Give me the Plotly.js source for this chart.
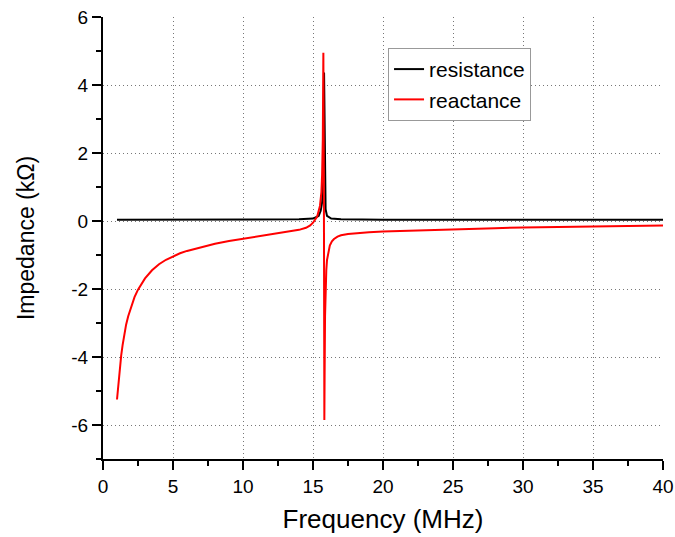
<!DOCTYPE html>
<html>
<head>
<meta charset="utf-8">
<script src="https://cdn.plot.ly/plotly-3.0.1.min.js"></script>
<style>html,body{margin:0;padding:0;background:#fff;}#chart{width:675px;height:537px;}</style>
</head>
<body>
<div id="chart"></div>
<script>
// Resistance (kΩ) vs frequency (MHz)
var resFreq = [1, 5, 10, 14, 15, 15.4, 15.55, 15.65, 15.7, 15.74, 15.77, 15.79, 15.81, 15.83, 15.86, 15.9, 16.0, 16.3, 17, 20, 30, 40];
var resVal  = [0.04, 0.04, 0.04, 0.05, 0.07, 0.15, 0.3, 0.55, 0.9, 1.8, 3.5, 4.37, 3.5, 1.8, 0.8, 0.35, 0.15, 0.07, 0.05, 0.04, 0.04, 0.04];

// Reactance (kΩ) vs frequency (MHz)
var reaFreq = [1, 1.1, 1.2, 1.3, 1.4, 1.5, 1.65, 1.8, 2, 2.25, 2.5, 2.75, 3, 3.5, 4, 4.5, 5, 5.5, 6, 7, 8, 9, 10, 11, 12, 13, 14, 14.5, 14.8, 15, 15.3, 15.5, 15.6, 15.65, 15.7, 15.74, 15.76, 15.78, 15.8, 15.81, 15.83, 15.86, 15.9, 15.95, 16.0, 16.1, 16.2, 16.35, 16.5, 16.75, 17, 17.5, 18, 19, 20, 22, 25, 28, 30, 35, 40];
var reaVal  = [-5.25, -4.75, -4.3, -3.95, -3.65, -3.38, -3.05, -2.8, -2.52, -2.24, -2.02, -1.84, -1.69, -1.45, -1.27, -1.14, -1.04, -0.95, -0.88, -0.77, -0.67, -0.59, -0.52, -0.455, -0.39, -0.33, -0.26, -0.2, -0.13, -0.05, 0.13, 0.45, 0.85, 1.35, 2.4, 4.95, 3.5, 0.5, -3.5, -5.85, -4.5, -2.8, -1.9, -1.45, -1.15, -0.88, -0.72, -0.6, -0.53, -0.46, -0.42, -0.38, -0.36, -0.33, -0.31, -0.28, -0.24, -0.21, -0.19, -0.15, -0.13];

var seriesNames = ['resistance', 'reactance'];
var xTitle = 'Frequency (MHz)';
var yTitle = 'Impedance (kΩ)';
var xTickVals = [0, 5, 10, 15, 20, 25, 30, 35, 40];
var xTickText = ['0', '5', '10', '15', '20', '25', '30', '35', '40'];
var yTickVals = [-6, -4, -2, 0, 2, 4, 6];
var yTickText = ['-6', '-4', '-2', '0', '2', '4', '6'];

var traces = [
  {x: resFreq, y: resVal, name: seriesNames[0], type: 'scatter', mode: 'lines',
   line: {color: '#000000', width: 2}},
  {x: reaFreq, y: reaVal, name: seriesNames[1], type: 'scatter', mode: 'lines',
   line: {color: '#ff0000', width: 2}}
];

var ff = 'Liberation Sans, Arial, sans-serif';

var layout = {
  width: 675, height: 537,
  margin: {l: 103, r: 12, t: 17, b: 78},
  paper_bgcolor: '#fff', plot_bgcolor: '#fff',
  font: {family: ff, color: '#000'},
  showlegend: true,
  legend: {
    x: 0.509, y: 0.93, xanchor: 'left', yanchor: 'top',
    bgcolor: '#fff', bordercolor: '#999', borderwidth: 1,
    font: {family: ff, size: 21, color: '#000'},
    tracegroupgap: 0
  },
  xaxis: {
    range: [0, 40], tickmode: 'array', tickvals: xTickVals, ticktext: xTickText,
    showline: true, linecolor: '#000', linewidth: 2, mirror: false,
    ticks: 'outside', ticklen: 9, tickwidth: 2, tickcolor: '#000',
    showgrid: true, gridcolor: '#777', griddash: '1px,3px', gridwidth: 1,
    zeroline: false,
    minor: {dtick: 2.5, tick0: 0, ticks: 'outside', ticklen: 5, tickwidth: 2, tickcolor: '#000', showgrid: false},
    tickfont: {family: ff, size: 19, color: '#000'},
    title: {text: xTitle, font: {family: ff, size: 26, color: '#000'}, standoff: 14}
  },
  yaxis: {
    range: [-7, 6], tickmode: 'array', tickvals: yTickVals, ticktext: yTickText,
    showline: true, linecolor: '#000', linewidth: 2, mirror: false,
    ticks: 'outside', ticklen: 9, tickwidth: 2, tickcolor: '#000',
    showgrid: true, gridcolor: '#777', griddash: '1px,3px', gridwidth: 1,
    zeroline: false,
    minor: {dtick: 1, tick0: 0, ticks: 'outside', ticklen: 5, tickwidth: 2, tickcolor: '#000', showgrid: false},
    tickfont: {family: ff, size: 19, color: '#000'},
    title: {text: yTitle, font: {family: ff, size: 23, color: '#000'}, standoff: 30}
  }
};

Plotly.newPlot('chart', traces, layout, {displayModeBar: false, staticPlot: true});
</script>
</body>
</html>
